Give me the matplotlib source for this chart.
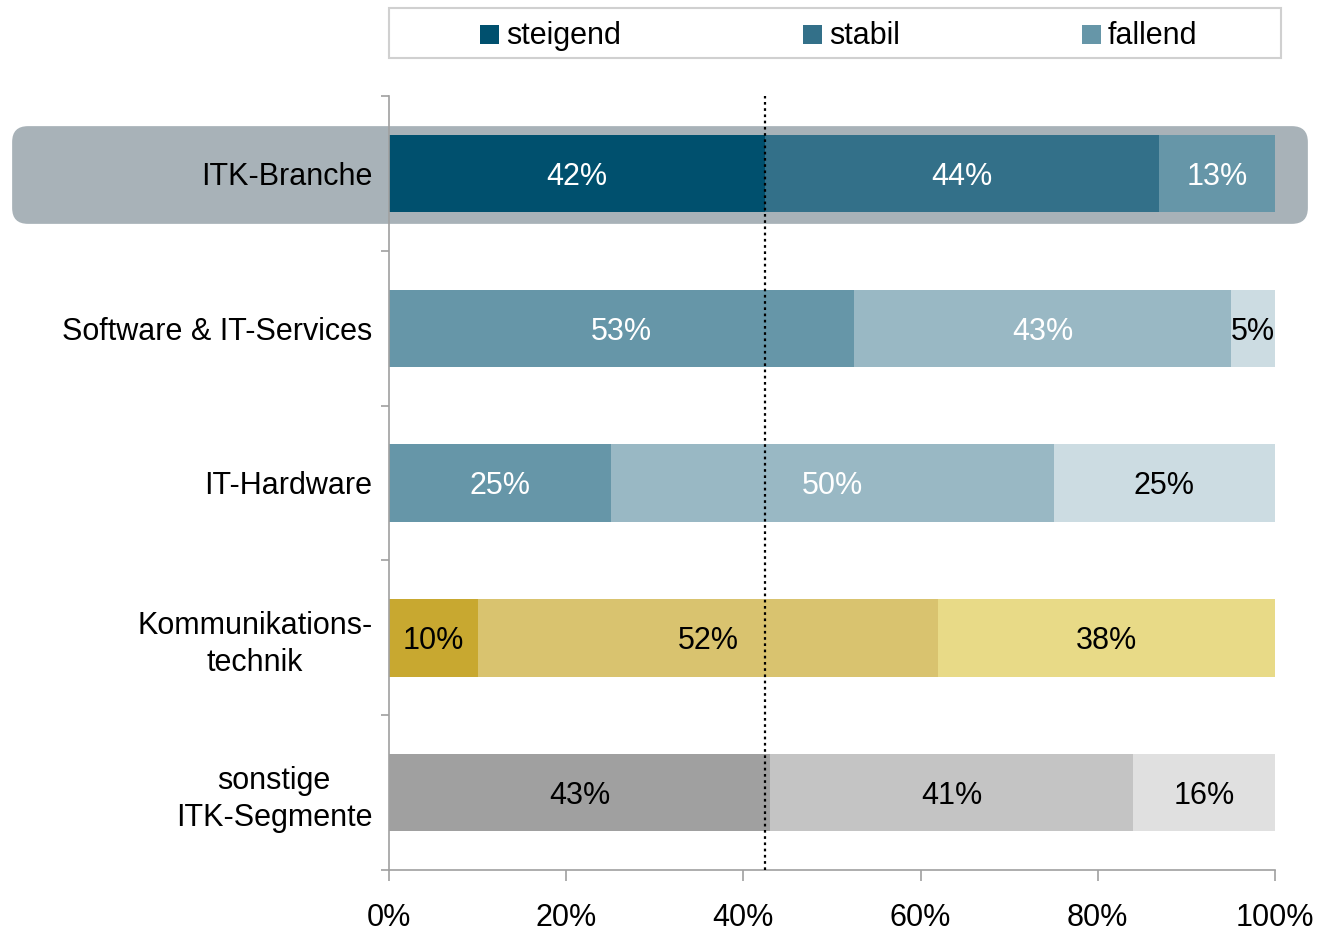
import matplotlib
matplotlib.use("Agg")
import matplotlib.pyplot as plt
from matplotlib.patches import FancyBboxPatch, Rectangle
import numpy as np

plt.rcParams['font.family'] = ['Liberation Sans', 'DejaVu Sans']

categories = ["ITK-Branche", "Software & IT-Services", "IT-Hardware",
              "Kommunikations-\ntechnik", "sonstige\nITK-Segmente"]
series_names = ["steigend", "stabil", "fallend"]
steigend = [42, 53, 25, 10, 43]
stabil = [44, 43, 50, 52, 41]
fallend = [13, 5, 25, 38, 16]
xtick_labels = ["0%", "20%", "40%", "60%", "80%", "100%"]

seg_colors = [
    ["#00506E", "#337089", "#6696A8"],
    ["#6696A8", "#99B8C4", "#CCDCE2"],
    ["#6696A8", "#99B8C4", "#CCDCE2"],
    ["#C8A830", "#D9C36F", "#E8DA87"],
    ["#A0A0A0", "#C4C4C4", "#E0E0E0"],
]
txt_colors = [
    ["white", "white", "white"],
    ["white", "white", "black"],
    ["white", "white", "black"],
    ["black", "black", "black"],
    ["black", "black", "black"],
]

W, H = 1322, 933
fig = plt.figure(figsize=(W / 100, H / 100), dpi=100)
ax = fig.add_axes([389 / W, 1 - 870 / H, (1275 - 389) / W, (870 - 96) / H])
ax.set_zorder(1)
ax.patch.set_visible(False)

data = np.array([steigend, stabil, fallend], dtype=float).T
shares = data / data.sum(axis=1, keepdims=True) * 100
y = np.arange(len(categories))
fs = 22

left = np.zeros(len(categories))
for j in range(3):
    ax.barh(y, shares[:, j], left=left, height=0.5,
            color=[seg_colors[i][j] for i in range(len(categories))], zorder=2)
    for i in range(len(categories)):
        ax.text(left[i] + shares[i, j] / 2, y[i], f"{int(data[i, j])}%",
                ha="center", va="center_baseline", fontsize=fs,
                color=txt_colors[i][j], zorder=4)
    left += shares[:, j]

ax.axvline(shares[0, 0], color="black", linestyle=(0, (1.2, 1.6)), linewidth=1.6, zorder=3)

ax.set_xlim(0, 100)
ax.set_ylim(len(categories) - 0.5, -0.5)
ax.set_xticks([0, 20, 40, 60, 80, 100])
ax.set_xticklabels(xtick_labels, fontsize=fs)
ax.set_yticks(y)
ax.set_yticklabels(categories, fontsize=fs, multialignment="center", linespacing=1.3)
ax.set_yticks(np.arange(-0.5, len(categories)), minor=True)
ax.tick_params(axis="y", which="major", length=0, pad=12)
ax.tick_params(axis="y", which="minor", length=6, color="#A0A0A0", width=1.2)
ax.tick_params(axis="x", length=8, color="#A0A0A0", width=1.2, pad=16)
for s in ["top", "right"]:
    ax.spines[s].set_visible(False)
for s in ["left", "bottom"]:
    ax.spines[s].set_color("#A0A0A0")
    ax.spines[s].set_linewidth(1.2)

# highlight box behind first row
box = FancyBboxPatch((28 / W, 1 - 208 / H), (1292 - 28) / W, (208 - 142) / H,
                     boxstyle="round,pad=0.012,rounding_size=0.012",
                     transform=fig.transFigure, facecolor="#A8B2B8", edgecolor="none",
                     zorder=0.5, mutation_aspect=W / H)
fig.patches.append(box)

# legend box
fig.patches.append(Rectangle((389 / W, 1 - 58 / H), (1281 - 389) / W, 50 / H,
                             transform=fig.transFigure, facecolor="white",
                             edgecolor="#D0D0D0", linewidth=1.5))
leg_x = [480, 803, 1082]
leg_cols = seg_colors[0]
for name, lx, c in zip(series_names, leg_x, leg_cols):
    fig.patches.append(Rectangle((lx / W, 1 - 44 / H), 19 / W, 19 / H,
                                 transform=fig.transFigure, facecolor=c, edgecolor="none"))
    fig.text((lx + 26) / W, 1 - 44 / H, name, fontsize=fs, va="baseline", ha="left")

fig.savefig("out.png", dpi=100)
